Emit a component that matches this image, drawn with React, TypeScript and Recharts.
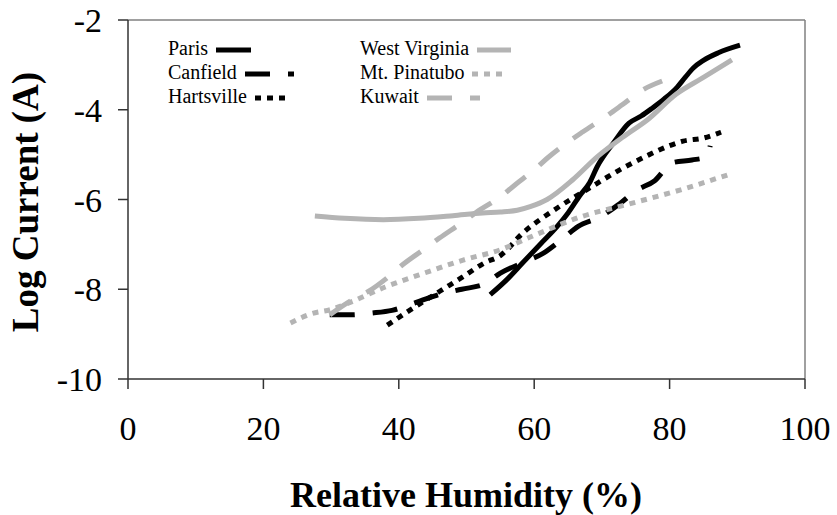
import { LineChart, Line, XAxis, YAxis, ReferenceLine, Label } from 'recharts';

// [relative humidity %, log current]
const paris = [
  [53.5, -8.12], [56, -7.78], [58.3, -7.41], [61, -6.98], [63.4, -6.6], [65, -6.3],
  [66.8, -5.9], [68.2, -5.62], [69.3, -5.27], [71.7, -4.74], [74, -4.3], [75.8, -4.14],
  [77.3, -3.98], [79.2, -3.76], [81.1, -3.5], [82.3, -3.28], [83.5, -3.07], [85, -2.9],
  [87.2, -2.73], [90.4, -2.56],
];
const canfield = [
  [29.8, -8.57], [33, -8.57], [36, -8.53], [39, -8.47], [43, -8.27], [46.4, -8.1],
  [49.3, -8.0], [52.7, -7.88], [55, -7.64], [58.6, -7.39], [61.3, -7.2], [64, -6.9],
  [66.5, -6.6], [69.7, -6.39], [72.4, -6.12], [75.2, -5.79], [77.8, -5.58], [80.4, -5.18],
  [83.3, -5.12], [85.5, -5.05], [86, -4.8],
];
const hartsville = [
  [38.3, -8.8], [41.7, -8.46], [46, -8.05], [49.5, -7.72], [52.7, -7.41], [55, -7.25],
  [58.3, -6.75], [63.4, -6.19], [68.2, -5.74], [73.1, -5.3], [77, -5.0], [80, -4.8],
  [82, -4.7], [85, -4.63], [87.6, -4.5],
];
const westVirginia = [
  [27.6, -6.37], [32, -6.42], [37.7, -6.45], [43, -6.42], [48, -6.36], [52.4, -6.3],
  [55, -6.28], [57.5, -6.24], [59.4, -6.16], [61.9, -6.0], [65.7, -5.56], [69.3, -5.05],
  [73, -4.62], [76.7, -4.23], [81, -3.65], [85, -3.28], [89.2, -2.89],
];
const pinatubo = [
  [24, -8.75], [27, -8.55], [30, -8.45], [33, -8.28], [38, -7.95], [43, -7.68],
  [49.5, -7.35], [55, -7.12], [60, -6.8], [66.8, -6.39], [74, -6.1], [81.5, -5.79],
  [88.6, -5.45],
];
const kuwait = [
  [29.8, -8.57], [33, -8.25], [35.5, -8.05], [38.5, -7.72], [40.5, -7.46], [44, -7.08],
  [46, -6.86], [49.3, -6.52], [51.5, -6.28], [55, -5.94], [57.2, -5.67], [60, -5.34],
  [62, -5.07], [65, -4.72], [67.2, -4.49], [70.5, -4.16], [73, -3.89], [76, -3.56],
  [78.9, -3.36],
];

const xTicks = [0, 20, 40, 60, 80, 100];
const yTicks = [-10, -8, -6, -4, -2];

const BLACK = '#000000';
const GRAY = '#b4b4b4';
const FONT = '"Liberation Serif", "Times New Roman", serif';

const toPoints = (arr: number[][]) => arr.map(([x, y]) => ({ x, y }));

const series = [
  { name: 'Paris', data: paris, color: BLACK, dash: undefined, sample: 35 },
  { name: 'Canfield', data: canfield, color: BLACK, dash: '25 18', sample: 49 },
  { name: 'Hartsville', data: hartsville, color: BLACK, dash: '6 6', sample: 30 },
  { name: 'West Virginia', data: westVirginia, color: GRAY, dash: undefined, sample: 34 },
  { name: 'Mt. Pinatubo', data: pinatubo, color: GRAY, dash: '6 6', sample: 30 },
  { name: 'Kuwait', data: kuwait, color: GRAY, dash: '25 18', sample: 53 },
];

function LegendBox() {
  const col = (items: typeof series, left: number) => (
    <div style={{ position: 'absolute', left, top: 36 }}>
      {items.map((s) => (
        <div key={s.name} style={{ height: 24, lineHeight: '24px', fontSize: 20, fontFamily: FONT, whiteSpace: 'nowrap' }}>
          {s.name}
          <svg width={s.sample} height={10} style={{ marginLeft: 8, verticalAlign: 'middle' }}>
            <line x1={0} y1={5} x2={s.sample} y2={5} stroke={s.color} strokeWidth={5} strokeDasharray={s.dash} />
          </svg>
        </div>
      ))}
    </div>
  );
  return (
    <>
      {col(series.slice(0, 3), 168)}
      {col(series.slice(3), 360)}
    </>
  );
}

export default function App() {
  return (
    <div style={{ position: 'absolute', left: 0, top: 0, width: 837, height: 515, background: '#fff' }}>
      <LineChart width={837} height={515} margin={{ top: 20, right: 32, left: 0, bottom: 0 }}>
        <XAxis
          dataKey="x"
          type="number"
          domain={[0, 100]}
          ticks={xTicks}
          height={136}
          tickSize={10}
          tickMargin={27}
          stroke="#333"
          strokeWidth={1.5}
          tick={{ fontSize: 34, fill: '#000', fontFamily: FONT }}
        >
          <Label
            content={() => (
              <text x={466} y={507} textAnchor="middle" fontSize={36} fontWeight="bold" fontFamily={FONT} fill="#000">
                Relative Humidity (%)
              </text>
            )}
          />
        </XAxis>
        <YAxis
          type="number"
          domain={[-10, -2]}
          ticks={yTicks}
          width={128}
          tickSize={10}
          tickMargin={16}
          stroke="#333"
          strokeWidth={1.5}
          tick={{ fontSize: 34, fill: '#000', fontFamily: FONT }}
        >
          <Label
            content={() => (
              <text
                x={25}
                y={202}
                transform="rotate(-90 25 202)"
                textAnchor="middle"
                dominantBaseline="central"
                fontSize={37}
                fontWeight="bold"
                fontFamily={FONT}
                fill="#000"
              >
                Log Current (A)
              </text>
            )}
          />
        </YAxis>
        <ReferenceLine y={-2} stroke="#808080" strokeWidth={1.5} />
        <ReferenceLine x={100} stroke="#808080" strokeWidth={1.5} />
        {series.map((s) => (
          <Line
            key={s.name}
            data={toPoints(s.data)}
            dataKey="y"
            name={s.name}
            type="monotone"
            stroke={s.color}
            strokeWidth={5}
            strokeDasharray={s.dash}
            dot={false}
            activeDot={false}
            isAnimationActive={false}
          />
        ))}
      </LineChart>
      <LegendBox />
    </div>
  );
}
